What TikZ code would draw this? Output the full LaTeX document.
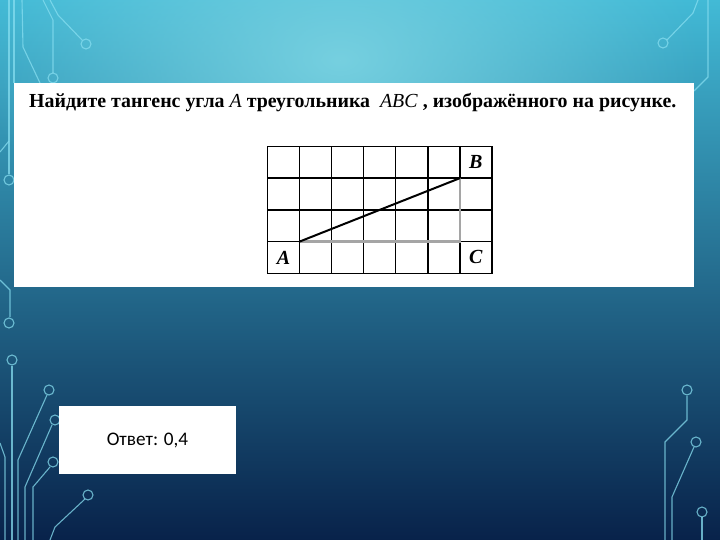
\documentclass[tikz,border=0pt]{standalone}
\usepackage{fontspec}
\setmainfont{Liberation Serif}
\newfontfamily\answerfont{Carlito}
\usetikzlibrary{fadings}
\definecolor{bgtop}{RGB}{66,186,214}
\definecolor{bgmid}{RGB}{30,118,165}
\definecolor{bgbot}{RGB}{8,34,74}
\definecolor{glow}{RGB}{118,208,224}
\definecolor{tracecol}{RGB}{135,222,240}
\definecolor{legcol}{RGB}{165,165,165}
\tikzfading[name=glowfade, inner color=transparent!0, outer color=transparent!100]

\tikzset{
  trace/.style={draw=tracecol, line width=1.1pt, opacity=0.75},
  card/.style={fill=white, inner sep=0pt},
  cell/.style={draw=black, line width=1.5pt, line cap=rect},
  vertex/.style={font=\fontsize{20}{20}\selectfont\bfseries\itshape},
}

\begin{document}
\begin{tikzpicture}[x=1pt, y=-1pt]

        \useasboundingbox (0,0) rectangle (720,540);
        \shade[top color=bgtop, middle color=bgmid, bottom color=bgbot] (0,0) rectangle (720,540);
        \fill[glow, path fading=glowfade] (340,60) ellipse (360pt and 220pt);

        % left traces
        \draw[trace] (9,0) -- (9,174);
        \draw[trace] (14,0) -- (14,83);
        \draw[trace] (22,0) -- (23,47) -- (40,83);
        \draw[trace] (43,0) -- (53,20) -- (53,73);
        \draw[trace] (50,0) -- (58,15) -- (82,40);
        \draw[trace] (0,152) -- (9,141);
        \draw[trace] (0,280) -- (10,290) -- (10,317);
        \draw[trace] (12,366) -- (12,540);
        \draw[trace] (47,395) -- (18,460) -- (18,540);
        \draw[trace] (52,425) -- (25,487) -- (25,540);
        \draw[trace] (50,467) -- (33,487) -- (33,540);
        \draw[trace] (85,499) -- (55,527) -- (50,540);
        \draw[trace] (0,443) -- (5,457) -- (5,540);
        % right traces
        \draw[trace] (698,0) -- (693,13) -- (667,40);
        \draw[trace] (708,0) -- (708,77) -- (694,91);
        \draw[trace] (687,396) -- (687,420) -- (665,442) -- (665,540);
        \draw[trace] (694,447) -- (672,497) -- (672,540);
        \draw[trace] (702,517) -- (702,540);

        \foreach \p in {(9,180),(53,78),(86,44),(9,323),(12,360),(49,390),(55,420),(53,462),(88,495),
                        (663,43),(687,390),(696,442),(702,512)}
            \draw[trace] \p circle[radius=5pt];

        \node[card, minimum width=680pt, minimum height=204pt] (task) at (354,185) {};
        \node[anchor=base west, inner sep=0pt, font=\fontsize{19.9}{20}\selectfont\bfseries] (question) at (29,108)
            {Найдите тангенс угла \textit{\mdseries A} треугольника~ \textit{\mdseries ABC} , изображённого на рисунке.};

        \begin{scope}[shift={(267.5,146.5)}, x=32.05pt, y=-31.7pt]
            \foreach \i in {0,...,7} \draw[cell] (\i,0) -- (\i,4);
            \foreach \j in {0,...,4} \draw[cell] (0,\j) -- (7,\j);
            \coordinate (A) at (1,3);
            \coordinate (B) at (6,1);
            \coordinate (C) at (6,3);
            \draw[legcol, line width=2.4pt] (A) -- (C) -- (B);
            \draw[black, line width=2pt, line cap=round] (A) -- (B);
            \node[vertex] (labA) at (0.5,3.5) {A};
            \node[vertex] (labB) at (6.5,0.5) {B};
            \node[vertex] (labC) at (6.5,3.5) {C};
        \end{scope}

        \node[card, minimum width=177pt, minimum height=68pt, font=\answerfont\fontsize{19.2}{19}\selectfont] (answer) at (147.5,440) {Ответ: 0,4};

      \end{tikzpicture}
\end{document}
